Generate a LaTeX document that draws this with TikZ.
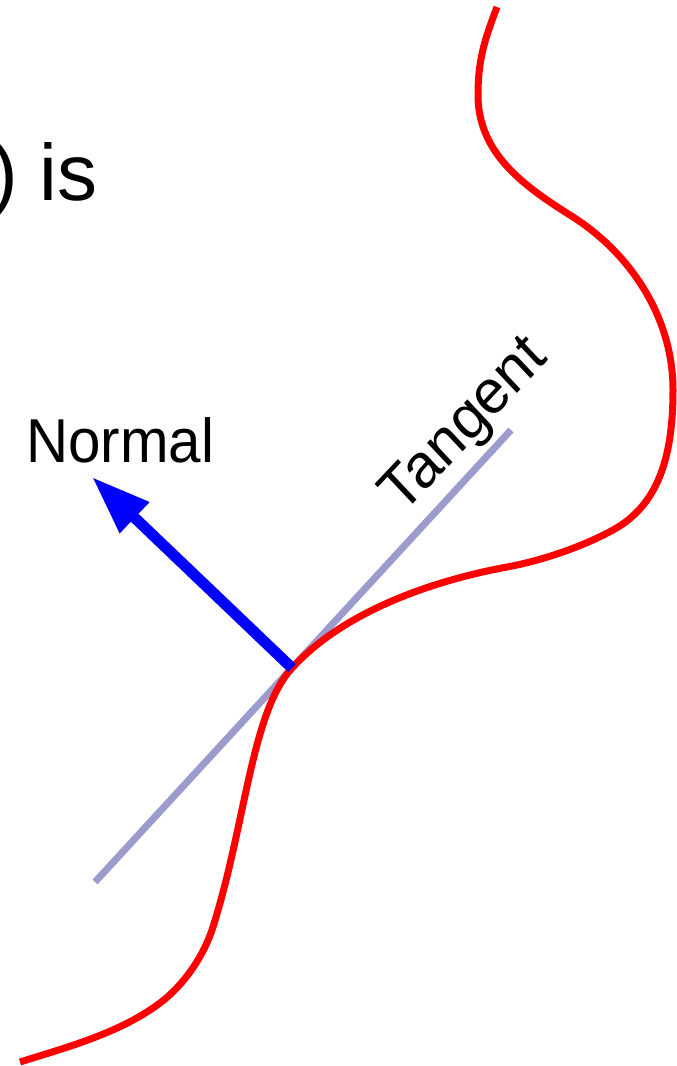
\documentclass[tikz,border=0pt]{standalone}
\usepackage{fontspec}
\setmainfont{Liberation Sans}
\usetikzlibrary{arrows.meta}
\definecolor{tangentcol}{RGB}{155,155,205}
\begin{document}
\begin{tikzpicture}[x=1pt,y=-1pt,
  lbl/.style={inner sep=0pt, font=\fontsize{62}{72}\selectfont, xscale=0.94},
  biglbl/.style={inner sep=0pt, font=\fontsize{80}{90}\selectfont},
  curve/.style={draw=red, line width=7pt},
  tangentline/.style={draw=tangentcol, line width=7pt},
  normalarrow/.style={draw=blue, line width=11pt, -{Triangle[length=59pt,width=40pt]}}]
\useasboundingbox (0,0) rectangle (677,1066);
\node[biglbl, anchor=base east] (is) at (98,200) {) is};
\coordinate (t1) at (95,882);
\coordinate (t2) at (511,430);
\draw[tangentline] (t1) -- (t2);
\draw[curve] (497,7) .. controls (484.5,40) and (478,60) .. (478,95)
  .. controls (478,155) and (526.5,187.6) .. (573,217)
  .. controls (628,252) and (673,315) .. (673,390)
  .. controls (673,460) and (656.8,505.9) .. (613,530)
  .. controls (582,547) and (541.4,560.7) .. (507,567)
  .. controls (438,579.7) and (346,609) .. (292,668)
  .. controls (251.4,712.2) and (246,822) .. (213,927)
  .. controls (204,955.6) and (184,985) .. (160,1003)
  .. controls (120,1033) and (67.7,1047) .. (20,1062);
\coordinate (base) at (292,668);
\coordinate (tip) at (92,477);
\draw[normalarrow] (base) -- (tip);
\node[lbl, anchor=base west] (normal) at (26,462) {Normal};
\node[lbl, rotate=45] (tangent) at (466,427) {Tangent};
\end{tikzpicture}
\end{document}
